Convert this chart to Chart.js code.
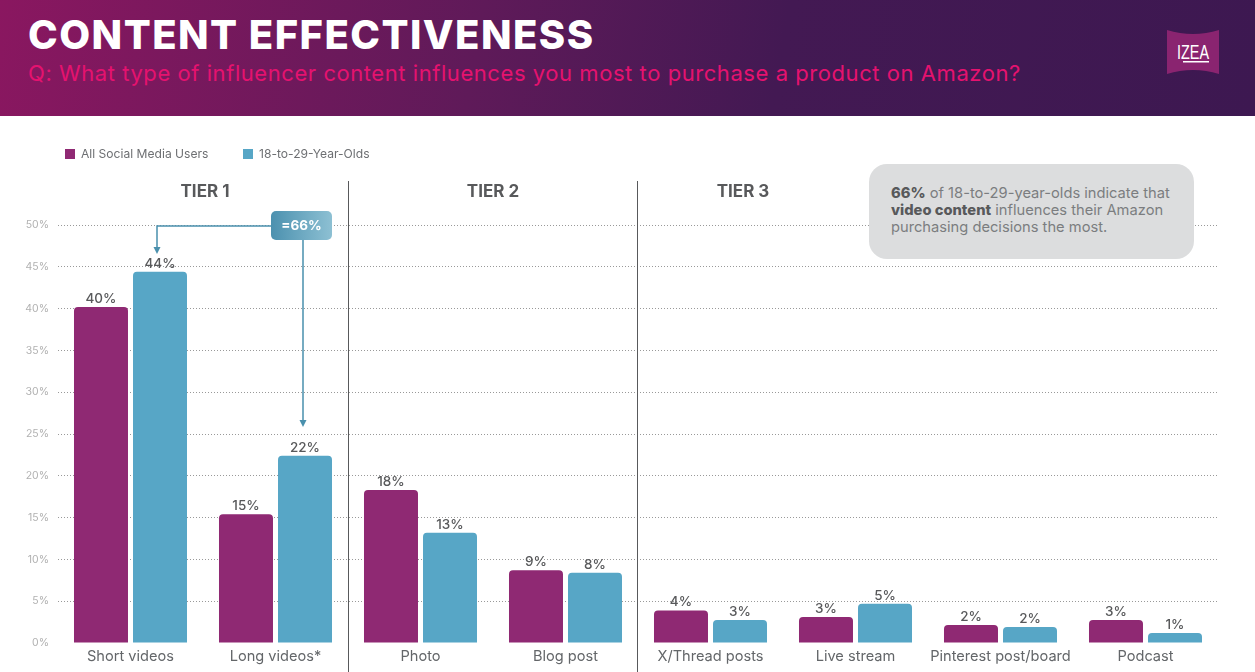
<!DOCTYPE html>
<html>
<head>
<meta charset="utf-8">
<title>Content Effectiveness</title>
<script src="https://cdn.jsdelivr.net/npm/chart.js@4"></script>
<style>
html, body { margin: 0; padding: 0; background: #fff; overflow: hidden; }
body { width: 1255px; height: 672px; position: relative; font-family: Inter, sans-serif; }
canvas { position: absolute; left: 0; top: 0; }
.header { position: absolute; left: 0; top: 0; width: 1255px; height: 116px;
  background: linear-gradient(100deg, #8a1760 0%, #5f1a59 38%, #431953 62%, #3d1851 100%); }
.title { position: absolute; left: 28px; top: 10px; font-size: 40px; font-weight: 800; letter-spacing: 1.45px; color: #fff; white-space: nowrap; }
.question { position: absolute; left: 28px; top: 60px; font-size: 22px; letter-spacing: 0.56px; color: #e5126f; white-space: nowrap; }
.logo { position: absolute; left: 1167px; top: 29px; }
.legend { position: absolute; top: 146px; font-size: 12.1px; color: #6d6f72; white-space: nowrap; }
.legend i { display: inline-block; width: 10px; height: 10px; margin-right: 6px; vertical-align: -1px; }
.note { position: absolute; left: 869px; top: 164px; width: 325px; height: 95px; box-sizing: border-box;
  padding: 21px 10px 0 22px; background: #dcddde; border-radius: 18px; font-size: 14.7px; line-height: 17px; color: #7b7d80; white-space: nowrap; }
.note b { color: #58595b; font-weight: 800; }
</style>
</head>
<body>
<canvas id="chart" width="1255" height="672"></canvas>
<div class="header">
  <div class="title">CONTENT EFFECTIVENESS</div>
  <div class="question">Q: What type of influencer content influences you most to purchase a product on Amazon?</div>
  <svg class="logo" width="52" height="46" viewBox="0 0 52 46">
    <path d="M0 1 Q26 9 52 1 L52 45 Q26 37 0 45 Z" fill="#8a2470"/>
    <text x="10" y="30" font-family="Liberation Sans" font-size="20" fill="#fff" textLength="32" lengthAdjust="spacingAndGlyphs">IZEA</text>
    <rect x="16" y="32" width="26" height="1.5" fill="#fff"/>
  </svg>
</div>
<div id="legend"></div>
<div class="note"><b>66%</b> of 18-to-29-year-olds indicate that<br><b>video content</b> influences their Amazon<br>purchasing decisions the most.</div>

<script>
var categories = ["Short videos", "Long videos*", "Photo", "Blog post", "X/Thread posts", "Live stream", "Pinterest post/board", "Podcast"];
var allUsers = [40.2, 15.4, 18.3, 8.7, 3.9, 3.1, 2.15, 2.75];
var youngUsers = [44.4, 22.4, 13.2, 8.4, 2.75, 4.7, 1.9, 1.2];
var tierNames = ["TIER 1", "TIER 2", "TIER 3"];
var seriesNames = ["All Social Media Users", "18-to-29-Year-Olds"];
var seriesColors = ["#8f2973", "#57a6c6"];

var textDark = "#58595b";

// html legend, the built in one would push the plot area around
var legendLeft = [65, 243];
seriesNames.forEach(function (name, i) {
    var el = document.createElement("div");
    el.className = "legend";
    el.style.left = legendLeft[i] + "px";
    el.innerHTML = '<i style="background:' + seriesColors[i] + '"></i>' + name;
    document.getElementById("legend").appendChild(el);
});

function arrowDown(ctx, x, y) {
    ctx.beginPath();
    ctx.moveTo(x - 3.5, y - 7);
    ctx.lineTo(x + 3.5, y - 7);
    ctx.lineTo(x, y);
    ctx.closePath();
    ctx.fill();
}

var overlays = {
    id: "overlays",
    afterDraw: function (chart) {
        var ctx = chart.ctx;
        ctx.save();

        // value labels
        ctx.textAlign = "center";
        ctx.textBaseline = "alphabetic";
        ctx.font = "550 13.5px Inter";
        ctx.fillStyle = textDark;
        chart.data.datasets.forEach(function (ds, d) {
            chart.getDatasetMeta(d).data.forEach(function (bar, i) {
                ctx.fillText(Math.round(ds.data[i]) + "%", bar.x, bar.y - 4);
            });
        });

        // tier dividers
        ctx.strokeStyle = "#58595b";
        ctx.lineWidth = 1;
        [348.5, 637.5].forEach(function (px) {
            ctx.beginPath();
            ctx.moveTo(px, 181);
            ctx.lineTo(px, 672);
            ctx.stroke();
        });

        // tier headings
        ctx.font = "700 17px Inter";
        ctx.fillStyle = textDark;
        ctx.fillText(tierNames[0], 205, 197);
        ctx.fillText(tierNames[1], 493, 197);
        ctx.fillText(tierNames[2], 743, 197);

        // =66% callout arrows
        ctx.strokeStyle = "#4a90ad";
        ctx.fillStyle = "#4a90ad";
        ctx.lineWidth = 1.5;
        ctx.beginPath();
        ctx.moveTo(271, 226);
        ctx.lineTo(157, 226);
        ctx.lineTo(157, 248);
        ctx.moveTo(303, 240);
        ctx.lineTo(303, 421);
        ctx.stroke();
        arrowDown(ctx, 157, 254);
        arrowDown(ctx, 303, 427);

        var grad = ctx.createLinearGradient(271, 0, 332, 0);
        grad.addColorStop(0, "#4c91af");
        grad.addColorStop(1, "#8dc0d3");
        ctx.fillStyle = grad;
        ctx.beginPath();
        ctx.roundRect(271, 211, 61, 29, 5);
        ctx.fill();
        ctx.fillStyle = "#fff";
        ctx.font = "700 13.5px Inter";
        ctx.fillText("=66%", 301.5, 230);
        ctx.restore();
    }
};

new Chart(document.getElementById("chart"), {
    type: "bar",
    data: {
        labels: categories,
        datasets: [{
            label: seriesNames[0],
            data: allUsers,
            backgroundColor: seriesColors[0],
            borderRadius: { topLeft: 4, topRight: 4 },
            categoryPercentage: 0.814,
            barPercentage: 0.915
        }, {
            label: seriesNames[1],
            data: youngUsers,
            backgroundColor: seriesColors[1],
            borderRadius: { topLeft: 4, topRight: 4 },
            categoryPercentage: 0.814,
            barPercentage: 0.915
        }]
    },
    options: {
        responsive: false,
        animation: false,
        layout: { padding: { top: 225, right: 37, left: 0, bottom: 0 } },
        plugins: { legend: { display: false }, title: { display: false }, tooltip: { enabled: false } },
        scales: {
            x: {
                afterFit: function (s) { s.height = 29; },
                border: { display: false },
                grid: { display: false, drawTicks: false },
                ticks: { color: "#636669", padding: 5, maxRotation: 0, autoSkip: false, font: { family: "Inter", size: 14.6 } }
            },
            y: {
                min: 0,
                max: 50,
                afterFit: function (s) { s.width = 58; },
                border: { display: false, dash: [1, 2] },
                grid: {
                    drawTicks: false,
                    lineWidth: 1,
                    color: function (c) { return c.tick.value === 0 ? "transparent" : "#999999"; }
                },
                ticks: {
                    stepSize: 5,
                    padding: 9,
                    color: "#b1b1b1",
                    font: { family: "Inter", size: 10.5 },
                    callback: function (v) { return v + "%"; }
                }
            }
        }
    },
    plugins: [overlays]
});
</script>
</body>
</html>
